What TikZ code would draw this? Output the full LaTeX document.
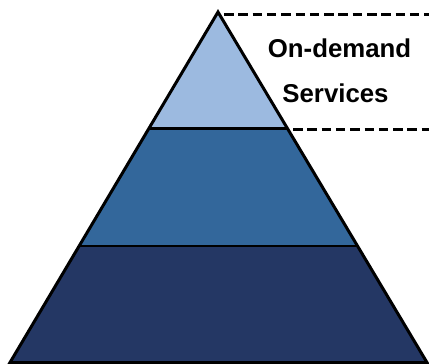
\documentclass[tikz,border=0pt]{standalone}
\usepackage{fontspec}
\setmainfont{Liberation Sans}
\definecolor{topband}{HTML}{9CBAE0}
\definecolor{midband}{HTML}{33679B}
\definecolor{lowband}{HTML}{243764}
\begin{document}
\begin{tikzpicture}[x=1pt,y=-1pt,
  outline/.style={draw=black,line width=3pt,line join=miter},
  sep/.style={draw=black,line width=2.6pt},
  guide/.style={draw=black,line width=2.4pt,dash pattern=on 9.5pt off 4.8pt},
  label/.style={font=\bfseries\fontsize{25.8}{30}\selectfont,inner sep=0pt,anchor=base}]
\useasboundingbox (0,0) rectangle (429,364);
\coordinate (apex) at (218,12);
\coordinate (l1) at (149.3,128.5);
\coordinate (r1) at (287.1,128.5);
\coordinate (l2) at (79.3,246);
\coordinate (r2) at (357.3,246);
\coordinate (bl) at (10,362.5);
\coordinate (br) at (427,362.5);
\fill[topband] (apex) -- (r1) -- (l1) -- cycle;
\fill[midband] (l1) -- (r1) -- (r2) -- (l2) -- cycle;
\fill[lowband] (l2) -- (r2) -- (br) -- (bl) -- cycle;
\draw[sep] (l1) -- (r1);
\draw[sep] (l2) -- (r2);
\draw[outline] (apex) -- (br) -- (bl) -- cycle;
\coordinate (g1s) at (224,14.5);
\coordinate (g1e) at (429,14.5);
\coordinate (g2s) at (293,129.5);
\coordinate (g2e) at (429,129.5);
\draw[guide] (g1s) -- (g1e);
\draw[guide] (g2s) -- (g2e);
\node[label] (t1) at (339.5,57) {On-demand};
\node[label] (t2) at (335.5,102) {Services};
\end{tikzpicture}
\end{document}
